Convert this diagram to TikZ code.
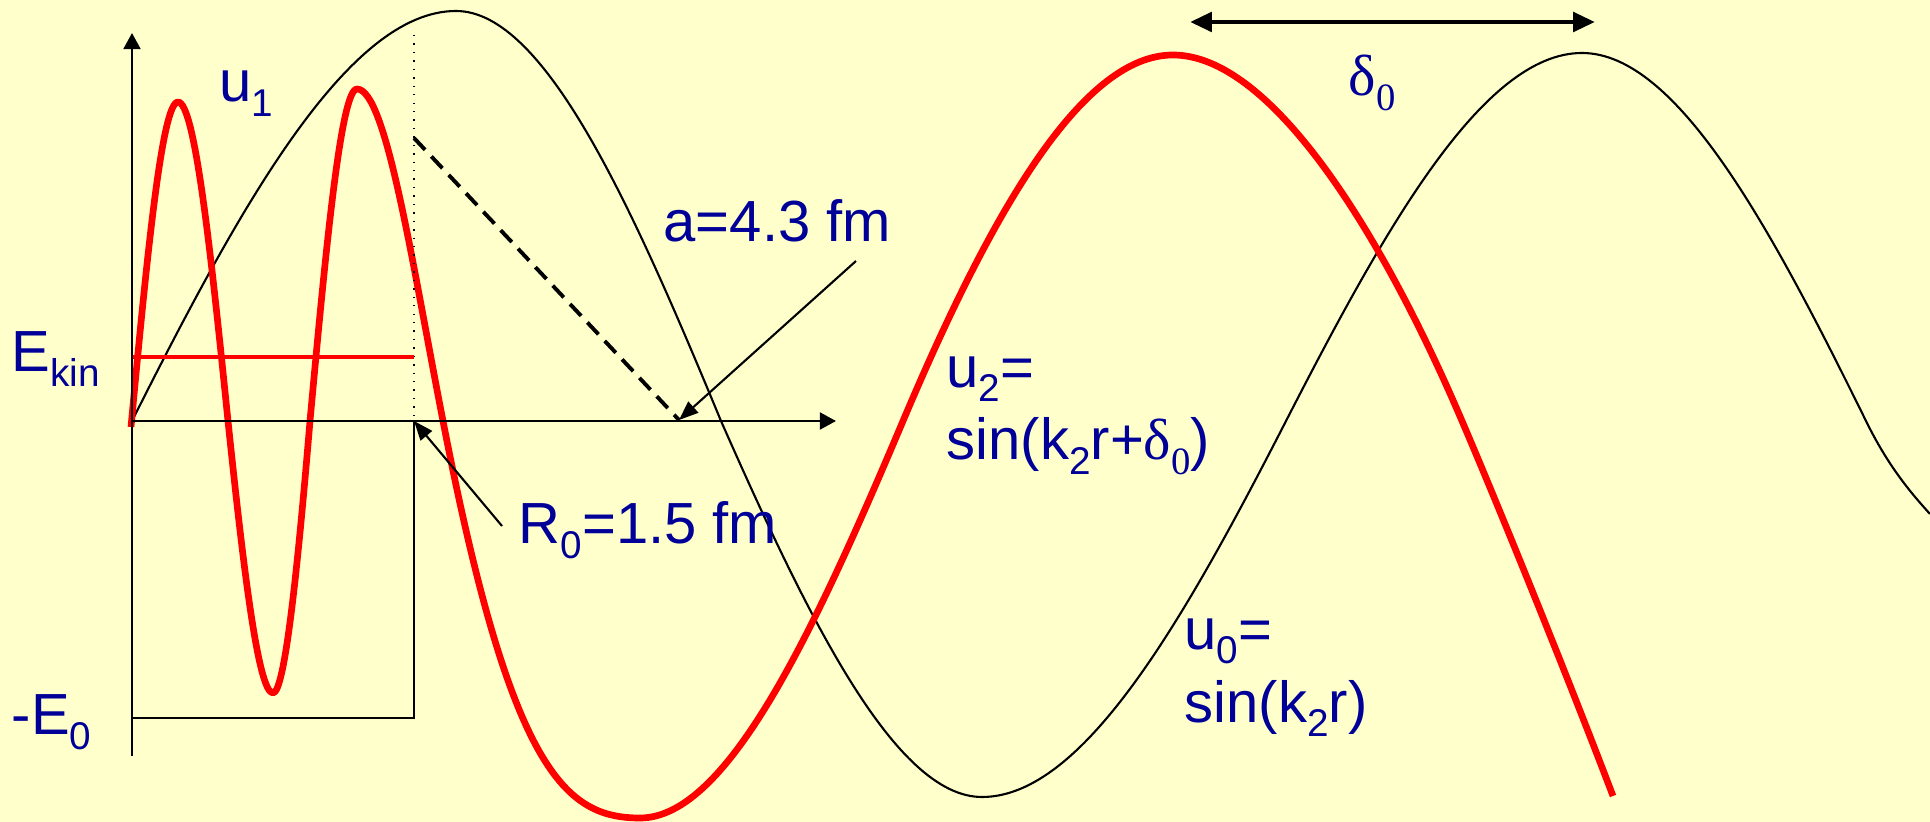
\documentclass[tikz,border=0pt]{standalone}
\usepackage{fontspec}
\setmainfont{Liberation Sans}
\newfontfamily\greekfont{Liberation Serif}
\usetikzlibrary{arrows.meta}

\definecolor{slidebg}{HTML}{FFFFCC}
\definecolor{labelblue}{HTML}{000099}
% lowered small index as on the slide
\newcommand{\lowsub}[1]{\raisebox{-4pt}{\fontsize{11}{11}\selectfont #1}}
\newcommand{\deltazero}{{\greekfont δ\lowsub{0}}}

\begin{document}
\begin{tikzpicture}[x=0.01cm, y=-0.01cm,
    bluetext/.style={text=labelblue, inner sep=0pt, anchor=base west,
        align=left, font=\fontsize{16.5}{20.5}\selectfont},
    axisline/.style={line width=0.75pt, -{Triangle[length=4.6pt, width=4.8pt]}},
    pointer/.style={line width=0.6pt, -{Triangle[length=5.5pt, width=4.2pt]}},
    freewave/.style={line width=0.6pt, line join=round},
    redwave/.style={red, line width=1.9pt, line join=round}]

    % Slide background
    \fill[slidebg] (0,0) rectangle (1930,822);
    \useasboundingbox (0,0) rectangle (1930,822);

    % Points of the sketch
    \coordinate (O) at (132,421);
    \coordinate (xtip) at (836,421);
    \coordinate (ytip) at (132,33);
    \coordinate (ybot) at (132,756);
    \coordinate (R) at (414,421);
    \coordinate (wellleft) at (132,718);
    \coordinate (wellright) at (414,718);
    \coordinate (dottop) at (414,35);
    \coordinate (ekinleft) at (132,357);
    \coordinate (ekinright) at (414,357);
    \coordinate (dashtop) at (414,138);
    \coordinate (dashend) at (679,420);
    \coordinate (atail) at (856,261);
    \coordinate (rtail) at (502,526);
    \coordinate (dleft) at (1190,22);
    \coordinate (dright) at (1595,22);

    % Free wave u0 = sin(k2 r)
    \draw[freewave] (O)
        .. controls (240,206) and (348,11) .. (456,11)
        .. controls (545,11) and (632,206) .. (721,421)
        .. controls (808,618) and (895,797) .. (982,797)
        .. controls (1084,797) and (1185,618) .. (1286,421)
        .. controls (1385,228) and (1483,53) .. (1582,53)
        .. controls (1677,53) and (1771,228) .. (1866,421)
        .. controls (1887,464) and (1909,491) .. (1930,514);

    % Wave u1 inside the well, going over into u2 outside
    \draw[redwave] (131,427)
        .. controls (147,256) and (162,102) .. (178,102)
        .. controls (195,102) and (211,254) .. (228,421)
        .. controls (243,564) and (258,693) .. (273,693)
        .. controls (285,693) and (298,564) .. (310,421)
        .. controls (326,247) and (341,89) .. (357,89)
        .. controls (386,89) and (412,262) .. (443,421)
        .. controls (511,771) and (565,818) .. (640,818)
        .. controls (728,818) and (815,629) .. (903,421)
        .. controls (993,208) and (1083,55) .. (1173,55)
        .. controls (1270,55) and (1380,229) .. (1462,421)
        .. controls (1498,505) and (1565,670) .. (1613,796);

    % Potential well and kinetic energy
    \draw[line width=0.6pt] (wellleft) -- (wellright) -- (R);
    \draw[dotted, line width=0.4pt] (dottop) -- (R);
    \draw[red, line width=0.9pt] (ekinleft) -- (ekinright);

    % Axes
    \draw[axisline] (ybot) -- (ytip);
    \draw[axisline] (O) -- (xtip);

    % Scattering length
    \draw[line width=1.1pt, dash pattern=on 4.6pt off 2.6pt] (dashtop) -- (dashend);

    % Labels
    \node[bluetext] (ekin) at (11,372) {E\lowsub{kin}};
    \node[bluetext] (ezero) at (11,735) {-E\lowsub{0}};
    \node[bluetext] (uone) at (219,102) {u\lowsub{1}};
    \node[bluetext] (alabel) at (663,242) {a=4.3 fm};
    \node[bluetext] (rlabel) at (518,544) {R\lowsub{0}=1.5 fm};
    \node[bluetext] (utwo) at (946,460) {u\lowsub{2}=\\sin(k\lowsub{2}r+\deltazero)};
    \node[bluetext] (uzero) at (1184,722) {u\lowsub{0}=\\sin(k\lowsub{2}r)};
    \node[bluetext] (dlabel) at (1348,96) {\deltazero};

    % Pointers
    \draw[pointer] (atail) -- (dashend);
    \draw[pointer] (rtail) -- (R);

    % Phase shift
    \draw[line width=1.4pt, {Triangle[length=6.2pt, width=5.4pt]}-{Triangle[length=6.2pt, width=5.4pt]}] (dleft) -- (dright);
\end{tikzpicture}
\end{document}
